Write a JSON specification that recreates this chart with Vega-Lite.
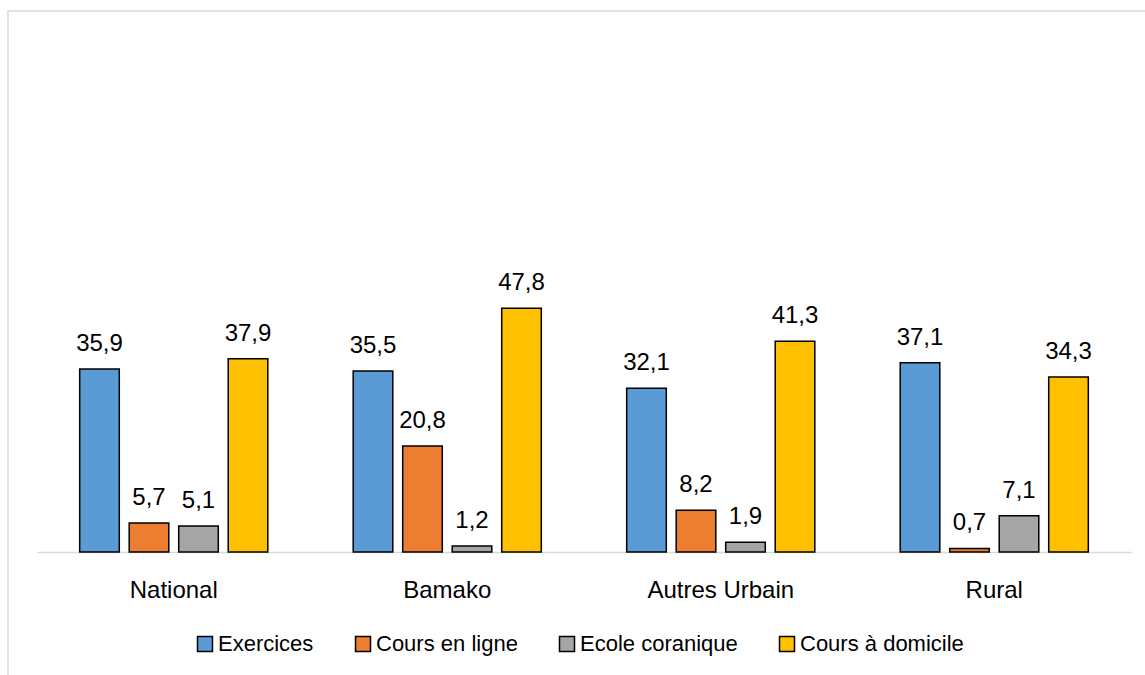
{
  "$schema": "https://vega.github.io/schema/vega-lite/v6.json",
  "width": 1142,
  "height": 669,
  "autosize": {"type": "none"},
  "padding": {"left": 8, "top": 11, "right": 0, "bottom": 0},
  "background": "white",
  "config": {
    "view": {"stroke": "#D9D9D9", "strokeWidth": 1.5},
    "font": "Liberation Sans",
    "locale": {"number": {"decimal": ",", "thousands": "\u00a0", "grouping": [3], "currency": ["", " €"]}}
  },
  "data": {
    "values": [
      {"zone": "National", "type": "Exercices", "value": 35.9},
      {"zone": "National", "type": "Cours en ligne", "value": 5.7},
      {"zone": "National", "type": "Ecole coranique", "value": 5.1},
      {"zone": "National", "type": "Cours à domicile", "value": 37.9},
      {"zone": "Bamako", "type": "Exercices", "value": 35.5},
      {"zone": "Bamako", "type": "Cours en ligne", "value": 20.8},
      {"zone": "Bamako", "type": "Ecole coranique", "value": 1.2},
      {"zone": "Bamako", "type": "Cours à domicile", "value": 47.8},
      {"zone": "Autres Urbain", "type": "Exercices", "value": 32.1},
      {"zone": "Autres Urbain", "type": "Cours en ligne", "value": 8.2},
      {"zone": "Autres Urbain", "type": "Ecole coranique", "value": 1.9},
      {"zone": "Autres Urbain", "type": "Cours à domicile", "value": 41.3},
      {"zone": "Rural", "type": "Exercices", "value": 37.1},
      {"zone": "Rural", "type": "Cours en ligne", "value": 0.7},
      {"zone": "Rural", "type": "Ecole coranique", "value": 7.1},
      {"zone": "Rural", "type": "Cours à domicile", "value": 34.3}
    ]
  },
  "encoding": {
    "x": {
      "field": "zone",
      "type": "nominal",
      "sort": ["National", "Bamako", "Autres Urbain", "Rural"],
      "scale": {"range": [29, 1123], "paddingInner": 0.276, "paddingOuter": 0.138},
      "axis": {
        "title": null,
        "labelAngle": 0,
        "ticks": false,
        "domainColor": "#D9D9D9",
        "domainWidth": 1.5,
        "labelFont": "Liberation Sans",
        "labelFontSize": 24,
        "labelColor": "black",
        "labelBaseline": "alphabetic",
        "labelPadding": 45,
        "offset": -128,
        "grid": false
      }
    },
    "xOffset": {
      "field": "type",
      "type": "nominal",
      "sort": ["Exercices", "Cours en ligne", "Ecole coranique", "Cours à domicile"],
      "scale": {"paddingInner": 0.2, "paddingOuter": 0.1}
    },
    "y": {
      "field": "value",
      "type": "quantitative",
      "scale": {"domain": [0, 100], "range": [541, 31]},
      "axis": null
    }
  },
  "layer": [
    {
      "mark": {"type": "bar", "stroke": "black", "strokeWidth": 1.5},
      "encoding": {
        "color": {
          "field": "type",
          "type": "nominal",
          "scale": {
            "domain": ["Exercices", "Cours en ligne", "Ecole coranique", "Cours à domicile"],
            "range": ["#5B9BD5", "#ED7D31", "#A5A5A5", "#FFC000"]
          },
          "legend": {
            "title": null,
            "orient": "none",
            "legendX": 186,
            "legendY": 622,
            "direction": "horizontal",
            "padding": 0,
            "symbolType": "square",
            "symbolSize": 225,
            "symbolStrokeColor": "black",
            "symbolStrokeWidth": 1.5,
            "symbolOpacity": 1,
            "labelFont": "Liberation Sans",
            "labelFontSize": 22,
            "labelColor": "black",
            "labelOffset": 2,
            "labelLimit": 400,
            "columnPadding": 38
          }
        }
      }
    },
    {
      "mark": {"type": "text", "baseline": "alphabetic", "dy": -18, "fontSize": 24, "font": "Liberation Sans", "color": "black"},
      "encoding": {
        "text": {"field": "value", "type": "quantitative", "format": ".1f"}
      }
    }
  ]
}
